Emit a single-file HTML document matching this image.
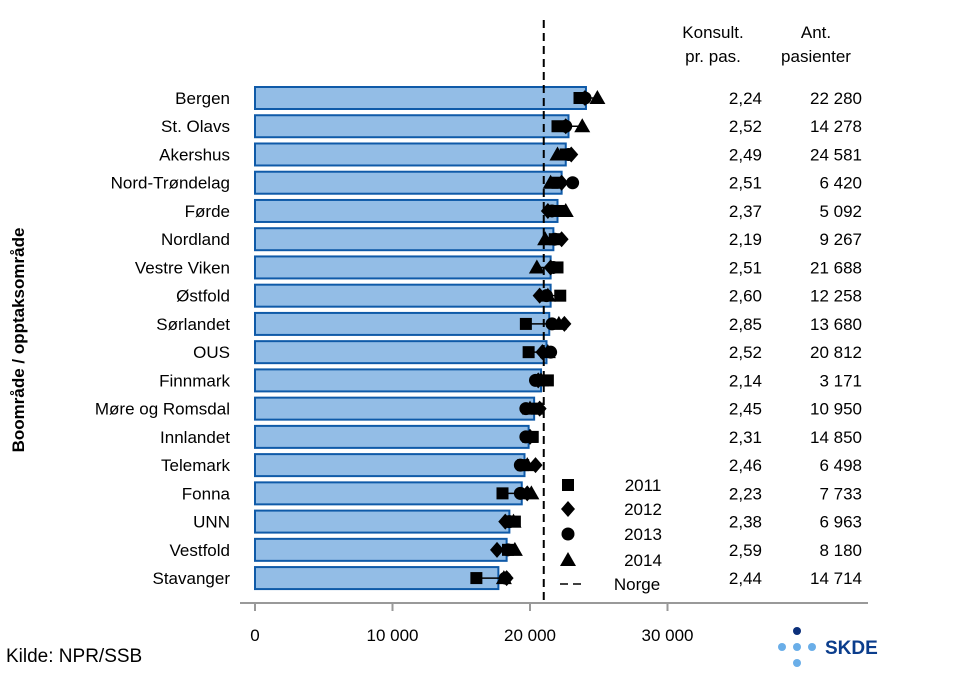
<!DOCTYPE html>
<html><head><meta charset="utf-8"><style>
body{margin:0;background:#fff}
svg{font-family:"Liberation Sans",Arial,sans-serif}
</style></head><body>
<svg id="c" width="958" height="680" viewBox="0 0 958 680" xmlns="http://www.w3.org/2000/svg">
<g id="bars"></g><g id="marks"></g><g id="labels"></g>
<text transform="translate(24,340) rotate(-90)" text-anchor="middle" font-size="17" font-weight="bold">Boområde / opptaksområde</text>
<text x="713" y="38" text-anchor="middle" font-size="17">Konsult.</text>
<text x="713" y="62" text-anchor="middle" font-size="17">pr. pas.</text>
<text x="816" y="38" text-anchor="middle" font-size="17">Ant.</text>
<text x="816" y="62" text-anchor="middle" font-size="17">pasienter</text>
<text x="6" y="662" font-size="19">Kilde: NPR/SSB</text>
<g>
<circle cx="797" cy="631" r="4" fill="#0b2f7a"/>
<circle cx="782" cy="647" r="4" fill="#6aaee8"/><circle cx="797" cy="647" r="4" fill="#6aaee8"/><circle cx="812" cy="647" r="4" fill="#6aaee8"/>
<circle cx="797" cy="663" r="4" fill="#6aaee8"/>
<text x="825" y="654" font-size="19" font-weight="bold" fill="#0b3d8c">SKDE</text>
</g>
</svg>
<script>
const categories=["Bergen","St. Olavs","Akershus","Nord-Trøndelag","Førde","Nordland","Vestre Viken","Østfold","Sørlandet","OUS","Finnmark","Møre og Romsdal","Innlandet","Telemark","Fonna","UNN","Vestfold","Stavanger"];
const bar2015=[24070,22800,22600,22300,22000,21700,21500,21500,21400,21200,20800,20300,19900,19600,19400,18500,18300,17700];
const v2011=[23600,22000,22600,22000,22200,21800,22000,22200,19700,19900,21300,20500,20200,19500,18000,18900,18400,16100];
const v2012=[24000,22600,23000,22300,21300,22300,21500,20700,22500,20900,20600,20700,20000,20400,19800,18200,17600,18300];
const v2013=[24000,22600,22800,23100,21600,21800,21700,21200,21600,21500,20400,19700,19700,19300,19300,18500,18400,18200];
const v2014=[24900,23800,22000,21500,22600,21100,20500,21300,22100,21300,20800,20000,20000,19800,20100,18800,18900,18100];
const norge=21000;
const konsult=["2,24","2,52","2,49","2,51","2,37","2,19","2,51","2,60","2,85","2,52","2,14","2,45","2,31","2,46","2,23","2,38","2,59","2,44"];
const antPas=["22 280","14 278","24 581","6 420","5 092","9 267","21 688","12 258","13 680","20 812","3 171","10 950","14 850","6 498","7 733","6 963","8 180","14 714"];
const xTicks=[0,10000,20000,30000];
const xTickLabels=["0","10 000","20 000","30 000"];
const NS="http://www.w3.org/2000/svg";
const X=v=>255+v*(137.5/10000);
const Y=i=>98+i*28.24;
function mk(p,t,a){const e=document.createElementNS(NS,t);for(const k in a)e.setAttribute(k,a[k]);p.appendChild(e);return e;}
const bars=document.getElementById('bars'),marks=document.getElementById('marks'),labels=document.getElementById('labels');
function marker(g,type,x,y){
 let e;
 if(type==0)e=mk(g,'rect',{x:x-6,y:y-6,width:12,height:12});
 else if(type==1)e=mk(g,'polygon',{points:`${x},${y-8} ${x+7},${y} ${x},${y+8} ${x-7},${y}`});
 else if(type==2)e=mk(g,'circle',{cx:x,cy:y,r:6.5});
 else e=mk(g,'polygon',{points:`${x},${y-8} ${x+8},${y+6} ${x-8},${y+6}`});
 return e;
}
categories.forEach((c,i)=>{
 const y=Y(i);
 const b=mk(bars,'rect',{x:X(0),y:y-11,width:X(bar2015[i])-X(0),height:22,fill:'#93bde6',stroke:'#0f5aa8','stroke-width':2});
 
 
 const t=mk(labels,'text',{x:230,y:y+6,'text-anchor':'end','font-size':17});t.textContent=c;
 
 
 const k=mk(labels,'text',{x:762,y:y+6,'text-anchor':'end','font-size':17});k.textContent=konsult[i];
 
 
 const a=mk(labels,'text',{x:862,y:y+6,'text-anchor':'end','font-size':17});a.textContent=antPas[i];
 
 
});
const nl=mk(marks,'line',{x1:X(norge),x2:X(norge),y1:20,y2:603,stroke:'#000','stroke-width':2,'stroke-dasharray':'8,5'});


const series=[v2011,v2012,v2013,v2014];
categories.forEach((c,i)=>{
 const y=Y(i);const vals=series.map(s=>s[i]);
 const r=mk(marks,'line',{x1:X(Math.min(...vals)),x2:X(Math.max(...vals)),y1:y,y2:y,stroke:'#000','stroke-width':1.5});
 
 
 series.forEach((s,j)=>{const m=marker(marks,j,X(s[i]),y);
  
  });
});
const ax=mk(labels,'line',{x1:240,x2:868,y1:603,y2:603,stroke:'#999','stroke-width':2});


xTicks.forEach((v,i)=>{
 const tk=mk(labels,'line',{x1:X(v),x2:X(v),y1:603,y2:611,stroke:'#999','stroke-width':2});
 
 
 const t=mk(labels,'text',{x:X(v),y:641,'text-anchor':'middle','font-size':17});t.textContent=xTickLabels[i];
 
 
});
const legY=[485,509,534,560,584];const legL=["2011","2012","2013","2014","Norge"];
legL.forEach((l,j)=>{
 const g=mk(labels,'g',{});
 
 
 if(j<4)marker(g,j,568,legY[j]);else mk(g,'line',{x1:560,x2:585,y1:legY[j],y2:legY[j],stroke:'#000','stroke-width':1.5,'stroke-dasharray':'8,5'});
 const t=mk(g,'text',{x:j<4?643:637,y:legY[j]+6,'text-anchor':'middle','font-size':17});t.textContent=l;
});
</script>
</body></html>
